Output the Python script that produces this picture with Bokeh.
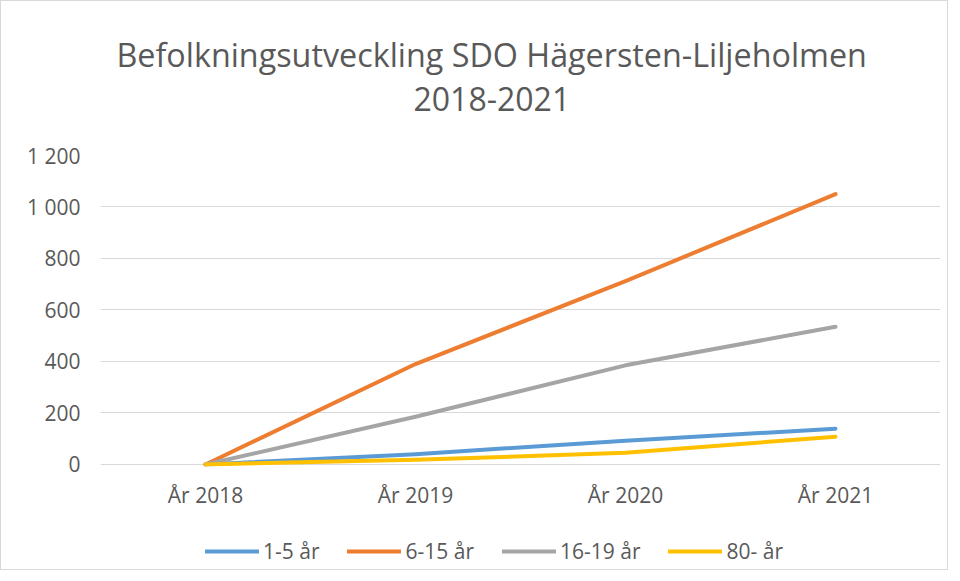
from bokeh.plotting import figure
from bokeh.layouts import column
from bokeh.models import Range1d, FactorRange, Title, Legend, LegendItem, FixedTicker
from bokeh.embed import file_html
from bokeh.resources import INLINE

categories = ["År 2018", "År 2019", "År 2020", "År 2021"]
series_names = ["1-5 år", "6-15 år", "16-19 år", "80- år"]
vals_1_5 = [0, 40, 92, 139]
vals_6_15 = [0, 390, 712, 1050]
vals_16_19 = [0, 185, 385, 535]
vals_80 = [0, 18, 45, 108]
y_ticks = [0, 200, 400, 600, 800, 1000, 1200]
y_tick_labels = ["0", "200", "400", "600", "800", "1 000", "1 200"]

colors = ["#5B9BD5", "#ED7D31", "#A5A5A5", "#FFC000"]
TEXT = "#595959"
FONT = "Open Sans"

p = figure(width=946, height=510, x_range=FactorRange(*categories),
           y_range=Range1d(-8, 1200), output_backend="svg", toolbar_location=None,
           min_border_left=99, min_border_right=7, min_border_top=154, min_border_bottom=44)
p.outline_line_color = None
p.background_fill_color = "white"

# spacer, then the two title lines (added from the plot outward)
p.add_layout(Title(text=" ", text_font=FONT, text_font_size="32px", standoff=0), "above")
p.add_layout(Title(text="2018-2021", align="left", offset=313, text_font=FONT, text_font_size="32px",
                   text_font_style="normal", text_color=TEXT, standoff=0), "above")
p.add_layout(Title(text="Befolkningsutveckling SDO Hägersten-Liljeholmen", align="left", offset=16,
                   text_font=FONT, text_font_size="32.3px", text_font_style="normal",
                   text_color=TEXT, standoff=17), "above")

p.xgrid.grid_line_color = None
p.ygrid.grid_line_color = "#D9D9D9"
p.ygrid.grid_line_width = 1
p.yaxis.ticker = FixedTicker(ticks=y_ticks)
p.yaxis.major_label_overrides = {t: l for t, l in zip(y_ticks, y_tick_labels)}

for ax in (p.xaxis, p.yaxis):
    ax.axis_line_color = None
    ax.major_tick_line_color = None
    ax.minor_tick_line_color = None
    ax.major_tick_out = 0
    ax.major_label_text_font = FONT
    ax.major_label_text_font_size = "21px"
    ax.major_label_text_color = TEXT
p.yaxis.major_label_standoff = 20
p.xaxis.major_label_standoff = 14

for vals, c in zip([vals_1_5, vals_6_15, vals_16_19, vals_80], colors):
    p.line(x=categories, y=vals, line_color=c, line_width=4, line_cap="round", line_join="round")

# legend strip below the chart
p2 = figure(width=946, height=58, x_range=Range1d(0, 1), y_range=Range1d(0, 1),
            x_axis_type=None, y_axis_type=None,
            output_backend="svg", toolbar_location=None, min_border=0,
            min_border_left=0, min_border_right=0, min_border_top=0, min_border_bottom=0)
p2.grid.grid_line_color = None
p2.outline_line_color = None
swatches = [p2.line(x=[0.5], y=[float("nan")], line_color=c, line_width=4, line_cap="round")
            for c in colors]
legend = Legend(items=[LegendItem(label=n, renderers=[r]) for n, r in zip(series_names, swatches)],
                orientation="horizontal", location=(105, 4), glyph_width=54, glyph_height=16,
                label_standoff=4, spacing=28, padding=2, margin=0,
                label_text_font=FONT, label_text_font_size="21px", label_text_color=TEXT,
                border_line_color=None, background_fill_alpha=0)
p2.add_layout(legend, "center")

layout = column(p, p2, spacing=0)
layout.styles = {"border": "1px solid #D9D9D9"}

open("out.html", "w").write(file_html(layout, INLINE))
